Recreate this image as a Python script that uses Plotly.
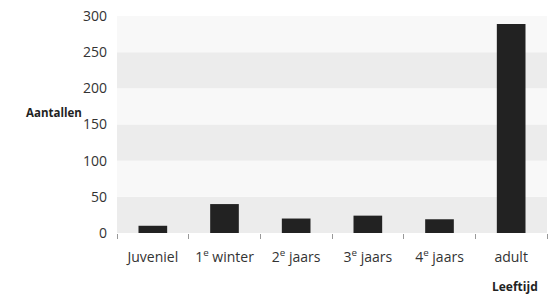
import plotly.graph_objects as go

categories = ["Juveniel", "1<sup>e</sup> winter", "2<sup>e</sup> jaars", "3<sup>e</sup> jaars", "4<sup>e</sup> jaars", "adult"]
counts = [10, 40, 20, 24, 19, 289]
y_ticks = [0, 50, 100, 150, 200, 250, 300]

FONT = "Open Sans, sans-serif"

fig = go.Figure()
fig.add_trace(go.Bar(x=categories, y=counts, marker=dict(color="#222222", line=dict(width=0)), width=0.4))

shapes = []
for i in range(len(y_ticks) - 1):
    shapes.append(dict(type="rect", xref="paper", yref="y", x0=0, x1=1,
                       y0=y_ticks[i], y1=y_ticks[i + 1], layer="below", line=dict(width=0),
                       fillcolor="#ececec" if i % 2 == 0 else "#f8f8f8"))

fig.update_layout(
    width=548, height=294,
    margin=dict(l=117, r=1, t=16, b=61),
    paper_bgcolor="white", plot_bgcolor="white",
    font=dict(family=FONT, size=13, color="#333333"),
    showlegend=False,
    shapes=shapes,
    xaxis=dict(tickson="boundaries", ticks="outside", ticklen=5, tickcolor="#999999",
               showgrid=False, showline=False, zeroline=False, ticklabelstandoff=14,
               tickfont=dict(size=14, color="#333333")),
    yaxis=dict(range=[0, 300], tickvals=y_ticks, showgrid=False, zeroline=False, showline=False,
               ticks="", ticklabelstandoff=9, tickfont=dict(size=14, color="#333333")),
    annotations=[
        dict(text="<b>Aantallen</b>", xref="paper", yref="paper", x=-0.077, y=0.555,
             xanchor="right", yanchor="middle", showarrow=False, font=dict(size=11.5, color="#222222")),
        dict(text="<b>Leeftijd</b>", xref="paper", yref="paper", x=0.984, y=-0.198,
             xanchor="right", yanchor="top", showarrow=False, font=dict(size=12, color="#222222")),
    ],
)
fig.write_html("out.html", config={"displayModeBar": False},
               post_script="document.body.style.margin='0px';")
